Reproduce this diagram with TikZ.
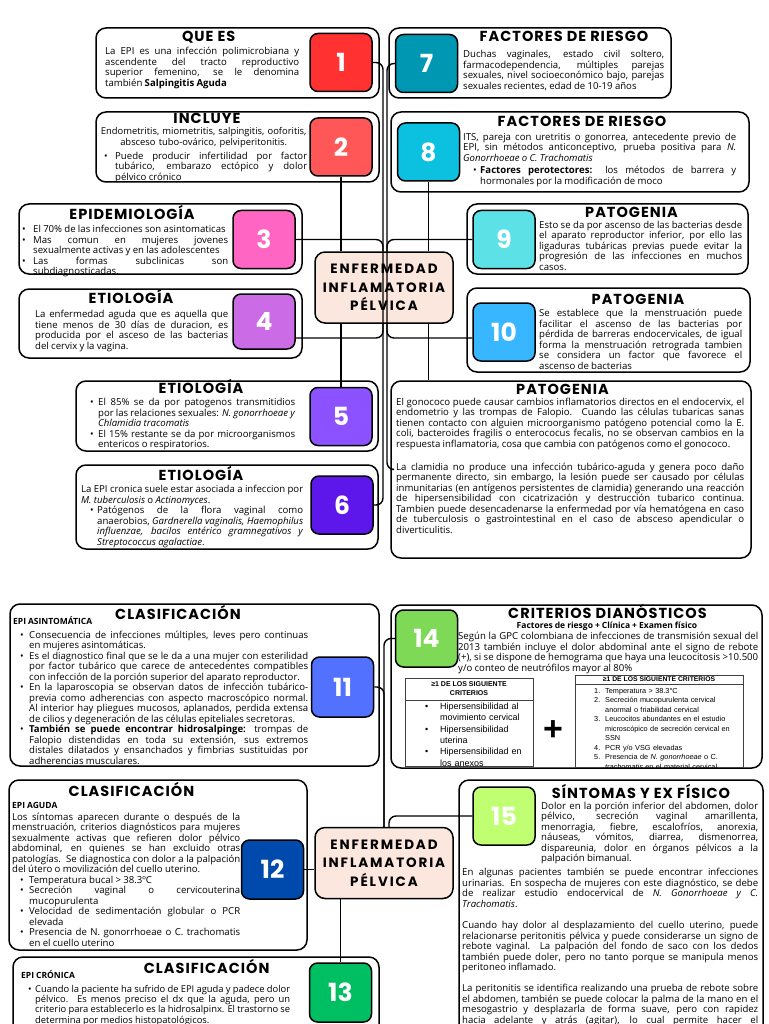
\documentclass[tikz,border=0pt]{standalone}
\usepackage{fontspec}
\setmainfont{Open Sans}[WordSpace={0.92,1.3,2.2}]
\newfontfamily\ttlfont{Poppins}[LetterSpace=7]
\newfontfamily\numfont{Poppins}
\newfontfamily\hubfont{Poppins}[LetterSpace=14]
\newfontfamily\tabfont{Liberation Sans}
\usepackage{tikz}
\usetikzlibrary{calc, positioning}

\definecolor{Numcolor1}{RGB}{255,49,49}
\definecolor{Numcolor2}{RGB}{255,87,87}
\definecolor{Numcolor3}{RGB}{255,102,196}
\definecolor{Numcolor4}{RGB}{203,108,230}
\definecolor{Numcolor5}{RGB}{140,82,255}
\definecolor{Numcolor6}{RGB}{94,23,235}
\definecolor{Numcolor7}{RGB}{0,151,178}
\definecolor{Numcolor8}{RGB}{12,192,223}
\definecolor{Numcolor9}{RGB}{92,225,230}
\definecolor{Numcolor10}{RGB}{56,182,255}
\definecolor{Numcolor11}{RGB}{82,113,255}
\definecolor{Numcolor12}{RGB}{0,74,173}
\definecolor{Numcolor13}{RGB}{0,191,99}
\definecolor{Numcolor14}{RGB}{126,217,87}
\definecolor{Numcolor15}{RGB}{193,255,114}
\definecolor{Hubcolor}{RGB}{252,231,222}

\newcommand{\bodytxt}{\fontsize{9.6}{10.5}\selectfont\tolerance=10000
  \hyphenpenalty=10000\parindent=0pt\relax}
\newcommand{\bul}[2]{\par\noindent\hangindent=\dimexpr#1+#2\relax\hangafter=1
  \hbox to#1{}\hbox to#2{\textbullet\hss}\ignorespaces}
\newcommand{\nitm}[1]{\par\noindent\hangindent=11pt\hangafter=1
  \hbox to11pt{#1\hss}\ignorespaces}
\hbadness=10000
\hfuzz=4pt

\begin{document}
\begin{tikzpicture}[
  x=1pt, y=-1pt,
  card/.style={draw, line width=1.5pt, rounded corners=10pt, fill=white},
  num/.style={draw, line width=1.5pt, rounded corners=8pt, minimum width=62pt,
              minimum height=58pt, text=white,
              font=\numfont\bfseries\fontsize{25}{25}\selectfont},
  hub/.style={draw, line width=1.5pt, rounded corners=10pt, fill=Hubcolor,
              minimum width=138pt, minimum height=71pt, align=center,
              font=\hubfont\bfseries\fontsize{13.5}{18.6}\selectfont},
  ttl/.style={anchor=base, inner sep=0pt,
              font=\ttlfont\bfseries\fontsize{14.5}{16}\selectfont},
  lbl/.style={anchor=base west, inner sep=0pt,
              font=\bfseries\fontsize{8.5}{10}\selectfont},
  txt/.style={anchor=north west, inner sep=0pt, text width=#1,
              align=justify, font=\bodytxt},
  cell/.style={draw=black!75, line width=0.7pt, inner sep=0pt},
  link/.style={line width=1.4pt, rounded corners=7pt}
]
\fill[white] (0,0) rectangle (768,1024);
\useasboundingbox (0,0) rectangle (768,1024);

%% ——— Bloque superior: izquierda ———
\node[card, minimum width=283pt, minimum height=70pt] (b1) at (237.5,63) {};
\node[ttl] (t1) at (208.7,42) {QUE ES};
\node[txt=194pt] (x1) at (105,47) {La EPI es una infección polimicrobiana y\linebreak
  ascendente del tracto reproductivo\linebreak superior femenino, se le denomina\linebreak
  también \textbf{Salpingitis Aguda}};
\node[num, fill=Numcolor1] (n1) at (341,62.5) {1};

\node[card, minimum width=283pt, minimum height=70pt] (b2) at (237.5,147) {};
\node[ttl] (t2) at (207,124) {INCLUYE};
\node[txt=210pt, align=center, font=\bodytxt\fontsize{9.4}{10.5}\selectfont] (x2)
  at (98.5,127.2) {Endometritis, miometritis, salpingitis, ooforitis,\\
  absceso tubo-ovárico, pelviperitonitis.};
\node[txt=203pt] (y2) at (104,148.8) {\bul{0pt}{11pt}Puede producir infertilidad por factor\linebreak
  tubárico, embarazo ectópico y dolor\linebreak pélvico crónico\par};
\node[num, fill=Numcolor2] (n2) at (341,147) {2};

\node[card, minimum width=283pt, minimum height=70pt] (b3) at (160.5,239) {};
\node[ttl] (t3) at (132,219) {EPIDEMIOLOGÍA};
\node[txt=206pt] (x3) at (22,222) {\bul{0pt}{11pt}El 70\% de las infecciones son asintomaticas
  \bul{0pt}{11pt}Mas comun en mujeres jovenes\linebreak sexualmente activas y en las adolescentes
  \bul{0pt}{11pt}Las formas subclinicas son\linebreak subdiagnosticadas.\par};
\node[num, fill=Numcolor3] (n3) at (264,239.5) {3};

\node[card, minimum width=283pt, minimum height=69pt] (b4) at (160.5,323.5) {};
\node[ttl] (t4) at (131,303) {ETIOLOGÍA};
\node[txt=193pt] (x4) at (35,310.3) {La enfermedad aguda que es aquella que\linebreak
  tiene menos de 30 días de duracion, es\linebreak producida por el asceso de las bacterias\linebreak
  del cervix y la vagina.};
\node[num, fill=Numcolor4, minimum height=55pt] (n4) at (264,321.5) {4};

\node[card, minimum width=302pt, minimum height=70pt] (b5) at (227,416) {};
\node[ttl] (t5) at (201,393) {ETIOLOGÍA};
\node[txt=205pt] (x5) at (90,395) {\bul{0pt}{8pt}El 85\% se da por patogenos transmitidios\linebreak
  por las relaciones sexuales: \textit{N. gonorrhoeae y}\linebreak \textit{Chlamidia tracomatis}
  \bul{0pt}{8pt}El 15\% restante se da por microorganismos\linebreak entericos o respiratorios.\par};
\node[num, fill=Numcolor5] (n5) at (341,416.5) {5};

\node[card, minimum width=302pt, minimum height=84pt] (b6) at (227,507) {};
\node[ttl] (t6) at (201,480) {ETIOLOGÍA};
\node[txt=222pt] (x6) at (81,485) {La EPI cronica suele estar asociada a infeccion por\linebreak
  \textit{M. tuberculosis} o \textit{Actinomyces}.
  \bul{9pt}{7pt}Patógenos de la flora vaginal como\linebreak
  anaerobios, \textit{Gardnerella vaginalis, Haemophilus}\linebreak
  \textit{influenzae, bacilos entérico gramnegativos y}\linebreak \textit{Streptococcus agalactiae}.\par};
\node[num, fill=Numcolor6] (n6) at (342,505) {6};

%% ——— Bloque superior: derecha ———
\node[card, minimum width=282pt, minimum height=70pt] (b7) at (530,63) {};
\node[ttl] (t7) at (564,42) {FACTORES DE RIESGO};
\node[txt=201pt] (x7) at (463,50.3) {Duchas vaginales, estado civil soltero,\linebreak
  farmacodependencia, múltiples parejas\linebreak sexuales, nivel socioeconómico bajo, parejas\linebreak
  sexuales recientes, edad de 10-19 años};
\node[num, fill=Numcolor7] (n7) at (426.5,63.5) {7};

\node[card, minimum width=358pt, minimum height=80pt] (b8) at (570,152) {};
\node[ttl] (t8) at (582,127) {FACTORES DE RIESGO};
\node[txt=273pt] (x8) at (463,132.7) {ITS, pareja con uretritis o gonorrea, antecedente previo de\linebreak
  EPI, sin métodos anticonceptivo, prueba positiva para \textit{N.}\linebreak
  \textit{Gonorrhoeae o C. Trachomatis}\par\vskip2pt
  \bul{10pt}{7pt}\textbf{Factores perotectores:} los métodos de barrera y\linebreak
  hormonales por la modificación de moco\par};
\node[num, fill=Numcolor8] (n8) at (428.5,152) {8};

\node[card, minimum width=281pt, minimum height=70pt] (b9) at (607.5,239) {};
\node[ttl] (t9) at (631.5,218) {PATOGENIA};
\node[txt=203pt] (x9) at (539,221) {Esto se da por ascenso de las bacterias desde\linebreak
  el aparato reproductor inferior, por ello las\linebreak ligaduras tubáricas previas puede evitar la\linebreak
  progresión de las infecciones en muchos\linebreak casos.};
\node[num, fill=Numcolor9] (n9) at (504,239.5) {9};

\node[card, minimum width=283pt, minimum height=84pt] (b10) at (608.5,330) {};
\node[ttl] (t10) at (638,304) {PATOGENIA};
\node[txt=203pt] (x10) at (539,309.3) {Se establece que la menstruación puede\linebreak
  facilitar el ascenso de las bacterias por\linebreak pérdida de barreras endocervicales, de igual\linebreak
  forma la menstruación retrograda tambien\linebreak se considera un factor que favorece el\linebreak
  ascenso de bacterias};
\node[num, fill=Numcolor10] (n10) at (504,332) {10};

\node[card, minimum width=360pt, minimum height=177pt] (bpat) at (571,469.5) {};
\node[ttl] (tpat) at (562.5,394.5) {PATOGENIA};
\node[txt=348pt] (xpat) at (396,397.5) {El gonococo puede causar cambios inflamatorios directos en el endocervix, el\linebreak
  endometrio y las trompas de Falopio. Cuando las células tubaricas sanas\linebreak
  tienen contacto con alguien microorganismo patógeno potencial como la E.\linebreak
  coli, bacteroides fragilis o enterococus fecalis, no se observan cambios en la\linebreak
  respuesta inflamatoria, cosa que cambia con patógenos como el gonococo.
  \par\vskip12.5pt
  La clamidia no produce una infección tubárico-aguda y genera poco daño\linebreak
  permanente directo, sin embargo, la lesión puede ser causado por células\linebreak
  inmunitarias (en antígenos persistentes de clamidia) generando una reacción\linebreak
  de hipersensibilidad con cicatrización y destrucción tubarico continua.\linebreak
  Tambien puede desencadenarse la enfermedad por vía hematógena en caso\linebreak
  de tuberculosis o gastrointestinal en el caso de absceso apendicular o\linebreak
  diverticulitis.};

\node[hub] (hub1) at (384,287.5) {ENFERMEDAD\\INFLAMATORIA\\PÉLVICA};

%% ——— Bloque inferior ———
\node[card, minimum width=369pt, minimum height=162pt] (b11) at (194.5,685) {};
\node[ttl] (t11) at (178,619) {CLASIFICACIÓN};
\node[lbl] (l11) at (13,624) {EPI ASINTOMÁTICA};
\node[txt=288pt] (x11) at (20,627.5) {\bul{0pt}{9pt}Consecuencia de infecciones múltiples, leves pero continuas\linebreak
  en mujeres asintomáticas.
  \bul{0pt}{9pt}Es el diagnostico final que se le da a una mujer con esterilidad\linebreak
  por factor tubárico que carece de antecedentes compatibles\linebreak
  con infección de la porción superior del aparato reproductor.
  \bul{0pt}{9pt}En la laparoscopia se observan datos de infección tubárico-\linebreak
  previa como adherencias con aspecto macroscópico normal.\linebreak
  Al interior hay pliegues mucosos, aplanados, perdida extensa\linebreak
  de cilios y degeneración de las células epiteliales secretoras.
  \bul{0pt}{9pt}\textbf{También se puede encontrar hidrosalpinge:} trompas de\linebreak
  Falopio distendidas en toda su extensión, sus extremos\linebreak
  distales dilatados y ensanchados y fimbrias sustituidas por\linebreak adherencias musculares.\par};
\node[num, fill=Numcolor11, minimum height=60pt] (n11) at (342.5,687) {11};

\node[card, minimum width=298pt, minimum height=170pt] (b12) at (158,865) {};
\node[ttl] (t12) at (131.5,796) {CLASIFICACIÓN};
\node[lbl] (l12) at (12,808.5) {EPI AGUDA};
\node[txt=228pt] (x12) at (12,812.6) {Los síntomas aparecen durante o después de la\linebreak
  menstruación, criterios diagnósticos para mujeres\linebreak
  sexualmente activas que refieren dolor pélvico\linebreak
  abdominal, en quienes se han excluido otras\linebreak
  patologías.\ \ Se diagnostica con dolor a la palpación\linebreak
  del útero o movilización del cuello uterino.
  \bul{8pt}{9pt}Temperatura bucal > 38.3ºC
  \bul{8pt}{9pt}Secreción vaginal o cervicouterina\linebreak mucopurulenta
  \bul{8pt}{9pt}Velocidad de sedimentación globular o PCR\linebreak elevada
  \bul{8pt}{9pt}Presencia de N. gonorrhoeae o C. trachomatis\linebreak en el cuello uterino\par};
\node[num, fill=Numcolor12, minimum height=59pt] (n12) at (272.5,869.5) {12};

\node[card, minimum width=366pt, minimum height=83pt] (b13) at (196,998.5) {};
\node[ttl] (t13) at (206.7,973) {CLASIFICACIÓN};
\node[lbl] (l13) at (21,978.5) {EPI CRÓNICA};
\node[txt=262pt, font=\bodytxt\fontsize{9.4}{10.2}\selectfont] (x13) at (28,982)
  {\bul{0pt}{7pt}Cuando la paciente ha sufrido de EPI aguda y padece dolor\linebreak
  pélvico. Es menos preciso el dx que la aguda, pero un\linebreak
  criterio para establecerlo es la hidrosalpinx. El trastorno se\linebreak
  determina por medios histopatológicos.\par};
\node[num, fill=Numcolor13, minimum height=59pt] (n13) at (340.5,992.5) {13};

\node[card, minimum width=371pt, minimum height=163pt] (b14) at (576.5,686.5) {};
\node[ttl] (t14) at (607.5,618) {CRITERIOS DIANÓSTICOS};
\node[anchor=base, inner sep=0pt, font=\bfseries\fontsize{8.5}{10}\selectfont] (s14)
  at (607,628.5) {Factores de riesgo + Clínica + Examen físico};
\node[txt=300pt] (x14) at (458,632) {Según la GPC colombiana de infecciones de transmisión sexual del\linebreak
  2013 también incluye el dolor abdominal ante el signo de rebote\linebreak
  (+), si se dispone de hemograma que haya una leucocitosis >10.500\linebreak
  y/o conteo de neutrófilos mayor al 80\%};
\node[num, fill=Numcolor14, minimum height=57pt] (n14) at (426.5,638.5) {14};

%% tablas de criterios
\node[cell, minimum width=128pt, minimum height=22pt, align=center,
      font=\tabfont\bfseries\fontsize{7}{9}\selectfont] (hdA) at (469,689)
  {≥1 DE LOS SIGUIENTE\\CRITERIOS};
\node[cell, minimum width=128pt, minimum height=66pt] (bdA) at (469,733) {};
\node[anchor=north west, inner sep=0pt, text width=106pt, align=left,
      font=\tabfont\fontsize{9}{11.3}\selectfont] (lsA) at (425,698)
  {\bul{0pt}{15pt}Hipersensibilidad al\linebreak movimiento cervical
   \bul{0pt}{15pt}Hipersensibilidad\linebreak uterina
   \bul{0pt}{15pt}Hipersensibilidad en\linebreak los anexos\par};
\node[font=\tabfont\bfseries\fontsize{34}{34}\selectfont, inner sep=0pt] (plus) at (553,731) {+};
\node[cell, minimum width=168pt, minimum height=9pt,
      font=\tabfont\bfseries\fontsize{6.8}{8}\selectfont] (hdB) at (659,679.5)
  {≥1 DE LOS SIGUIENTE CRITERIOS};
\node[cell, minimum width=168pt, minimum height=83pt] (bdB) at (659,725.5) {};
\node[anchor=north west, inner sep=0pt, text width=147pt, align=left,
      font=\tabfont\fontsize{7.3}{9.5}\selectfont] (lsB) at (594,683.3)
  {\nitm{1.}Temperatura > 38.3°C
   \nitm{2.}Secreción mucopurulenta cervical\linebreak anormal o friabilidad cervical
   \nitm{3.}Leucocitos abundantes en el estudio\linebreak microscópico de secreción cervical en\linebreak SSN
   \nitm{4.}PCR y/o VSG elevadas
   \nitm{5.}Presencia de \textit{N. gonorrhoeae} o C.\linebreak \textit{trachomatis} en el material cervical\par};

\node[card, minimum width=304pt, minimum height=260pt] (b15) at (611,910) {};
\node[ttl] (t15) at (641,798) {SÍNTOMAS Y EX FÍSICO};
\node[txt=217pt] (x15) at (541,801.7) {Dolor en la porción inferior del abdomen, dolor\linebreak
  pélvico, secreción vaginal amarillenta,\linebreak menorragia, fiebre, escalofríos, anorexia,\linebreak
  náuseas, vómitos, diarrea, dismenorrea,\linebreak dispareunia, dolor en órganos pélvicos a la\linebreak
  palpación bimanual.};
\node[txt=296pt] (y15) at (462,868) {En algunas pacientes también se puede encontrar infecciones\linebreak
  urinarias. En sospecha de mujeres con este diagnóstico, se debe\linebreak
  de realizar estudio endocervical de \textit{N. Gonorrhoeae y C.}\linebreak \textit{Trachomatis}.
  \par\vskip11pt
  Cuando hay dolor al desplazamiento del cuello uterino, puede\linebreak
  relacionarse peritonitis pélvica y puede considerarse un signo de\linebreak
  rebote vaginal. La palpación del fondo de saco con los dedos\linebreak
  también puede doler, pero no tanto porque se manipula menos\linebreak peritoneo inflamado.
  \par\vskip10.5pt
  La peritonitis se identifica realizando una prueba de rebote sobre\linebreak
  el abdomen, también se puede colocar la palma de la mano en el\linebreak
  mesogastrio y desplazarla de forma suave, pero con rapidez\linebreak
  hacia adelante y atrás (agitar), lo cual permite hacer el\linebreak\null};
\node[num, fill=Numcolor15] (n15) at (504,816) {15};

\node[hub] (hub2) at (384,863) {ENFERMEDAD\\INFLAMATORIA\\PÉLVICA};

%% ——— Conexiones ———
\coordinate (tL) at (383,0);
\coordinate (tR) at (387,0);
\coordinate (tB) at (384,0);
\coordinate (tC) at (389,0);
\coordinate (lowbar) at (0,338);

\draw[link] (n1.east) -- (n1.east -| tL) -- (n6.east -| tL) -- (n6.east);
\draw[link] (n7.west) -- (n7.west -| tR) -- (bpat.west -| tR) -- (bpat.west);
\draw[link] (n2.south) -- (n2.south |- hub1.north);
\draw[link] (n8.south) -- (n8.south |- hub1.north);
\draw[link] (n3.east) -- (n3.east -| tL) -- (tL |- hub1.north);
\draw[link] (lowbar -| n4.east) -- (lowbar -| tL) -- (tL |- hub1.south);
\draw[link] (n9.west) -- (n9.west -| tR) -- (tR |- hub1.north);
\draw[link] (lowbar -| n10.west) -- (lowbar -| tR) -- (tR |- hub1.south);
\draw[link] (n5.north) -- (n5.north |- hub1.south);
\draw[link] (hub1.south -| n8.south) -- (bpat.north -| n8.south);

\draw[link] (n14.west) -- (n14.west -| tB) -- (tB |- hub2.north);
\draw[link] (n11.east) -- (n11.east -| tB) -- (tB |- hub2.north);
\draw[link] (n15.west) -- (n15.west -| tC) -- (tC |- hub2.north);
\draw[link] (n12.east) -- (n12.east -| hub2.west);
\draw[link] (hub2.south -| n13.north) -- (n13.north);

\end{tikzpicture}
\end{document}
